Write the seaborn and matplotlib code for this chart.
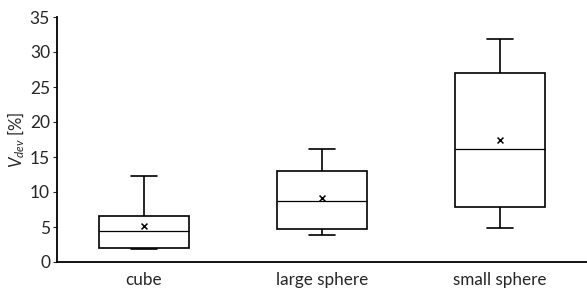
import matplotlib
matplotlib.use("Agg")
import matplotlib.pyplot as plt
import seaborn as sns
import pandas as pd

categories = ["cube", "large sphere", "small sphere"]
# five-number summaries: low whisker, Q1, median, Q3, high whisker
lows = [1.85, 3.9, 4.9]
q1s = [2.0, 4.7, 7.9]
medians = [4.4, 8.7, 16.1]
q3s = [6.6, 13.0, 27.0]
highs = [12.3, 16.1, 31.9]
means = [5.1, 9.1, 17.4]
yticks = [0, 5, 10, 15, 20, 25, 30, 35]

rows = []
for c, a, b, m, d, e in zip(categories, lows, q1s, medians, q3s, highs):
    for v in (a, b, m, d, e):
        rows.append({"shape": c, "val": v})
df = pd.DataFrame(rows)
mdf = pd.DataFrame({"shape": categories, "mean": means})

sns.set_style("white")
plt.rcParams["font.family"] = ["Lato", "DejaVu Sans"]
plt.rcParams["mathtext.fontset"] = "custom"
plt.rcParams["mathtext.rm"] = "Lato"
plt.rcParams["mathtext.it"] = "Lato:italic"

fig = plt.figure(figsize=(5.87, 2.89), dpi=100)
ax = fig.add_axes([57/587, 1-262/289, 1-57/587, (262-17)/289])

sns.boxplot(data=df, x="shape", y="val", order=categories, whis=(0, 100),
            width=0.506, color="white", linecolor="black", linewidth=1.2,
            showfliers=False, ax=ax,
            medianprops={"color": "black", "linewidth": 0.9})
# shorten caps
for line in ax.lines:
    xd = line.get_xdata()
    yd = line.get_ydata()
    if len(xd) == 2 and yd[0] == yd[1] and abs(xd[1]-xd[0]) > 0 and abs(xd[1]-xd[0]) < 0.3:
        c = (xd[0] + xd[1]) / 2
        line.set_xdata([c - 0.075, c + 0.075])

sns.scatterplot(data=mdf, x="shape", y="mean", marker="x", color="black",
                s=18, linewidth=1.1, ax=ax, zorder=5)

ax.set_xlim(-0.489, 2.489)
ax.set_ylim(0, 35)
ax.set_yticks(yticks)
ax.set_xlabel("")
ax.set_ylabel(r"$V_{dev}$ [%]", fontsize=12, labelpad=2)
ax.tick_params(axis="y", labelsize=12.5, length=3, direction="out", pad=2, left=True)
ax.tick_params(axis="x", labelsize=12.3, length=0, pad=7)
for s in ["top", "right"]:
    ax.spines[s].set_visible(False)
for s in ["left", "bottom"]:
    ax.spines[s].set_color("black")
    ax.spines[s].set_linewidth(1.3)

fig.savefig("out.png", dpi=100)
